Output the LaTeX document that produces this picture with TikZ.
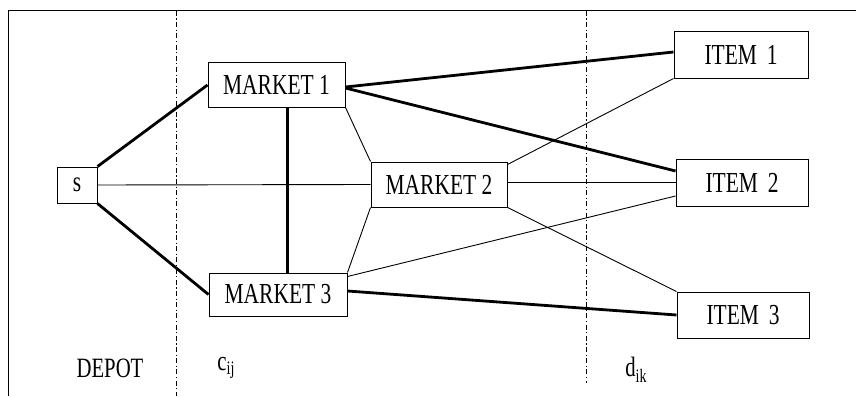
\documentclass[tikz,border=0pt]{standalone}
\usepackage{fontspec}
\setmainfont{Liberation Serif}
\begin{document}
\begin{tikzpicture}[x=1pt,y=-1pt,
  box/.style={draw,line width=1pt,inner sep=0pt,font=\fontsize{29}{29}\selectfont},
  thick link/.style={line width=2.8pt},
  thin link/.style={line width=0.9pt},
  divider/.style={line width=1pt,dash pattern=on 5pt off 2.5pt on 1.2pt off 2.5pt},
  lbl/.style={inner sep=0pt,font=\fontsize{28}{28}\selectfont}]
\newcommand{\nm}[1]{\scalebox{0.74}[1]{#1}}
\useasboundingbox (0,0) rectangle (856,396);
% frame
\draw[line width=1pt] (8,396) -- (8,11) -- (856,11);
\draw[divider] (176,11) -- (176,396);
\draw[divider] (586,11) -- (586,383);
% nodes
\node[box,minimum width=40,minimum height=36] (s) at (77,185) {\nm{s}};
\node[box,minimum width=137,minimum height=44] (m1) at (276.5,85) {\nm{MARKET~1}};
\node[box,minimum width=136,minimum height=45] (m2) at (439,184.5) {\nm{MARKET~2}};
\node[box,minimum width=138,minimum height=43] (m3) at (278,294.5) {\nm{MARKET~3}};
\node[box,minimum width=134,minimum height=46] (i1) at (741,55) {\nm{ITEM~\hspace{6pt}1}};
\node[box,minimum width=132,minimum height=47] (i2) at (742,182.5) {\nm{ITEM~\hspace{6pt}2}};
\node[box,minimum width=132,minimum height=46] (i3) at (743,315) {\nm{ITEM~\hspace{6pt}3}};
% labels
\node[lbl] (depot) at (110,368) {\nm{DEPOT}};
\node[lbl] (cij) at (226,368) {\nm{c\raisebox{-0.35ex}{\fontsize{19}{19}\selectfont ij}}};
\node[lbl] (dik) at (636,370) {\nm{d\raisebox{-0.45ex}{\fontsize{19}{19}\selectfont ik}}};
% connectors
\draw[thick link] (s.north east) -- (m1.west);
\draw[thick link] (s.south east) -- (m3.west);
\draw[thin link] (s.east) -- (m2.west);
\draw[thick link] ([xshift=11pt]m1.south) -- ([xshift=9.5pt]m3.north);
\draw[thin link] (m1.south east) -- (m2.north west);
\draw[thin link] (m3.north east) -- (m2.south west);
\draw[thick link] ([yshift=-2pt]m1.east) -- ([yshift=3pt]i1.west);
\draw[thick link] ([yshift=-3pt]m1.east) -- ([yshift=11.5pt]i2.west);
\draw[thin link] ([yshift=-3pt]m2.north east) -- (i1.south west);
\draw[thin link] ([yshift=2pt]m2.east) -- (i2.west);
\draw[thin link] (m2.south east) -- (i3.north west);
\draw[thin link] ([yshift=-4pt]m3.north east) -- ([yshift=-13.5pt]i2.west);
\draw[thick link] ([yshift=3.5pt]m3.east) -- (i3.west);
\end{tikzpicture}
\end{document}
